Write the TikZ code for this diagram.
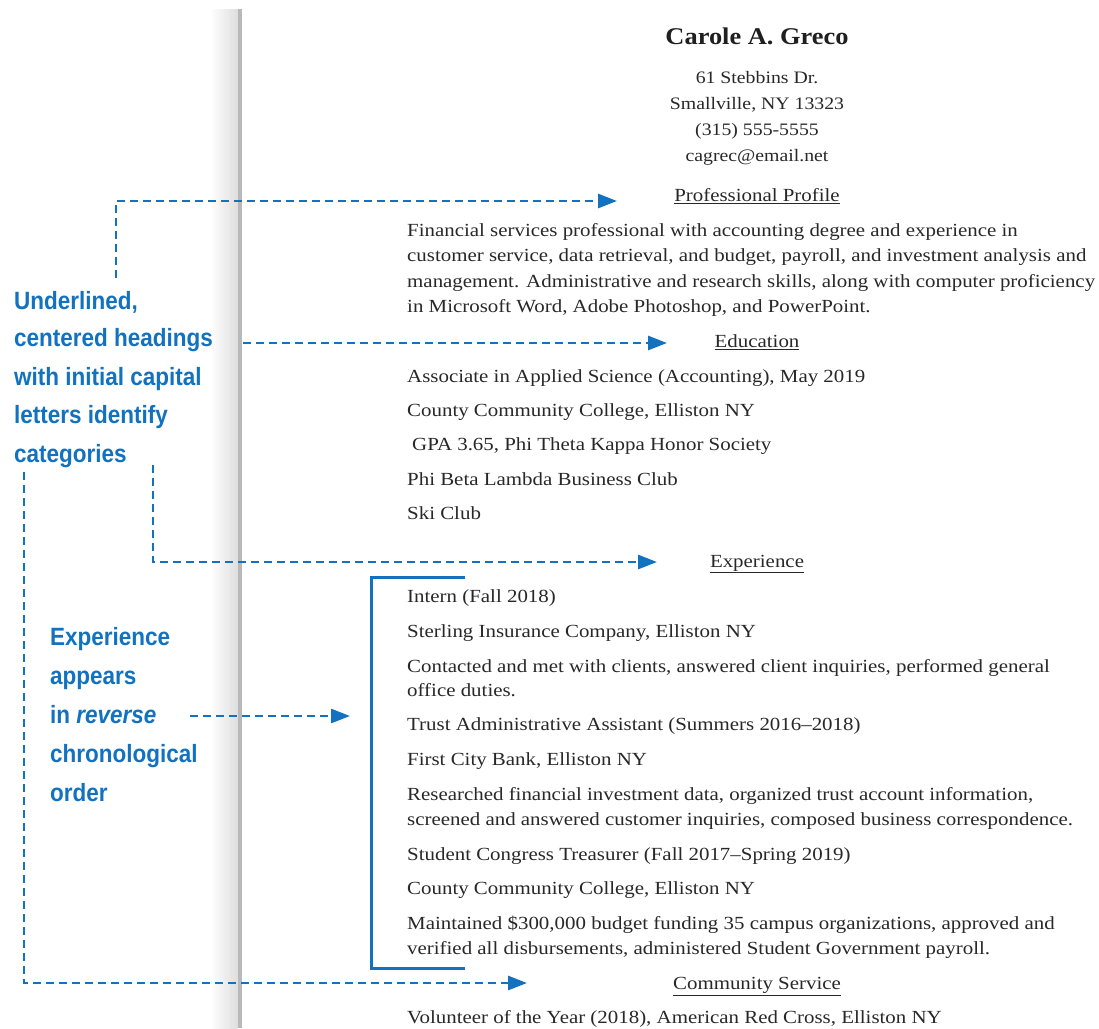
\documentclass[tikz,border=0pt]{standalone}
\usepackage{fontspec}
\setmainfont{Liberation Serif}[FakeStretch=1.13]
\newfontfamily\namefont{Liberation Serif}[FakeStretch=1.1]
\newfontfamily\annfont{Liberation Sans}[FakeStretch=0.9]
\usetikzlibrary{arrows.meta,calc}
\definecolor{noteblue}{RGB}{18,114,192}
\definecolor{inkgray}{RGB}{40,40,40}
\begin{document}
\begin{tikzpicture}[x=1pt,y=-1pt,
  body/.style={anchor=mid west, inner sep=0pt, yshift=-4pt, font=\fontsize{18.5}{24}\selectfont, text=inkgray},
  addr/.style={anchor=mid, inner sep=0pt, yshift=-4pt, font=\fontsize{17.5}{24}\selectfont, text=inkgray},
  head/.style={anchor=mid, inner sep=0pt, yshift=-4pt, font=\fontsize{18.5}{24}\selectfont, text=inkgray},
  note/.style={anchor=mid west, inner sep=0pt, yshift=-5pt, font=\annfont\bfseries\fontsize{25}{39}\selectfont, text=noteblue},
  guide/.style={draw=noteblue, line width=2.8pt, dash pattern=on 8pt off 5pt,
    -{Triangle[length=19pt,width=14pt]}},
  bracket/.style={draw=noteblue, line width=3pt}]
\useasboundingbox (0,0) rectangle (1099,1028);
\fill[white] (0,0) rectangle (1099,1028);
% page edge shading
\shade[left color=white, right color=gray!26] (210,9) rectangle (238,1028);
\fill[gray!55] (238,9) rectangle (241.5,1028);

% header
\node[anchor=mid, inner sep=0pt, yshift=-5pt, font=\namefont\bfseries\fontsize{24}{28}\selectfont, text=black!88] (name) at (757,37) {Carole A. Greco};
\node[addr] (street) at (757,77) {61 Stebbins Dr.};
\node[addr] (city) at (757,103) {Smallville, NY 13323};
\node[addr] (phone) at (757,129) {(315) 555-5555};
\node[addr] (email) at (757,155) {cagrec@email.net};

% profile
\node[head] (profile) at (757,195) {\underline{Professional Profile}};
\node[body] (p1) at (407,230) {Financial services professional with accounting degree and experience in};
\node[body] (p2) at (407,255) {customer service, data retrieval, and budget, payroll, and investment analysis and};
\node[body] (p3) at (407,281) {management. Administrative and research skills, along with computer proficiency};
\node[body] (p4) at (407,306) {in Microsoft Word, Adobe Photoshop, and PowerPoint.};

% education
\node[head] (education) at (757,341) {\underline{Education}};
\node[body] (e1) at (407,376) {Associate in Applied Science (Accounting), May 2019};
\node[body] (e2) at (407,410) {County Community College, Elliston NY};
\node[body] (e3) at (412,444) {GPA 3.65, Phi Theta Kappa Honor Society};
\node[body] (e4) at (407,479) {Phi Beta Lambda Business Club};
\node[body] (e5) at (407,513) {Ski Club};

% experience
\node[head] (experience) at (757,561) {\underline{Experience}};
\node[body] (x1) at (407,596) {Intern (Fall 2018)};
\node[body] (x2) at (407,631) {Sterling Insurance Company, Elliston NY};
\node[body] (x3) at (407,666) {Contacted and met with clients, answered client inquiries, performed general};
\node[body] (x4) at (407,690) {office duties.};
\node[body] (x5) at (407,724) {Trust Administrative Assistant (Summers 2016--2018)};
\node[body] (x6) at (407,759) {First City Bank, Elliston NY};
\node[body] (x7) at (407,794) {Researched financial investment data, organized trust account information,};
\node[body] (x8) at (407,819) {screened and answered customer inquiries, composed business correspondence.};
\node[body] (x9) at (407,854) {Student Congress Treasurer (Fall 2017--Spring 2019)};
\node[body] (x10) at (407,888) {County Community College, Elliston NY};
\node[body] (x11) at (407,923) {Maintained \$300,000 budget funding 35 campus organizations, approved and};
\node[body] (x12) at (407,948) {verified all disbursements, administered Student Government payroll.};

% community service
\node[head] (community) at (757,983) {\underline{Community Service}};
\node[body] (c1) at (407,1017) {Volunteer of the Year (2018), American Red Cross, Elliston NY};

% notes
\node[note] (na) at (14,302) {Underlined,};
\node[note] (nb) at (14,339) {centered headings};
\node[note] (nc) at (14,378) {with initial capital};
\node[note] (nd) at (14,416) {letters identify};
\node[note] (ne) at (14,455) {categories};
\node[note] (ma) at (50,638) {Experience};
\node[note] (mb) at (50,677) {appears};
\node[note] (mc) at (50,716) {in \textit{reverse}};
\node[note] (md) at (50,755) {chronological};
\node[note] (me) at (50,794) {order};

% guide end points
\coordinate (s1) at (116,278);
\coordinate (s2) at (243,343);
\coordinate (s3) at (153,465);
\coordinate (s4) at (190,716);
\coordinate (s5) at (24,472);
\coordinate (t1) at (617,201);
\coordinate (t2) at (667,343);
\coordinate (t3) at (657,562);
\coordinate (t4) at (350,716);
\coordinate (t5) at (527,983);

\draw[guide] (s1) |- (t1);
\draw[guide] (s2) -- (t2);
\draw[guide] (s3) |- (t3);
\draw[guide] (s4) -- (t4);
\draw[guide] (s5) |- (t5);

% bracket around experience entries
\draw[bracket] (465,577) -- (371,577) -- (371,968) -- (465,968);
\end{tikzpicture}
\end{document}
